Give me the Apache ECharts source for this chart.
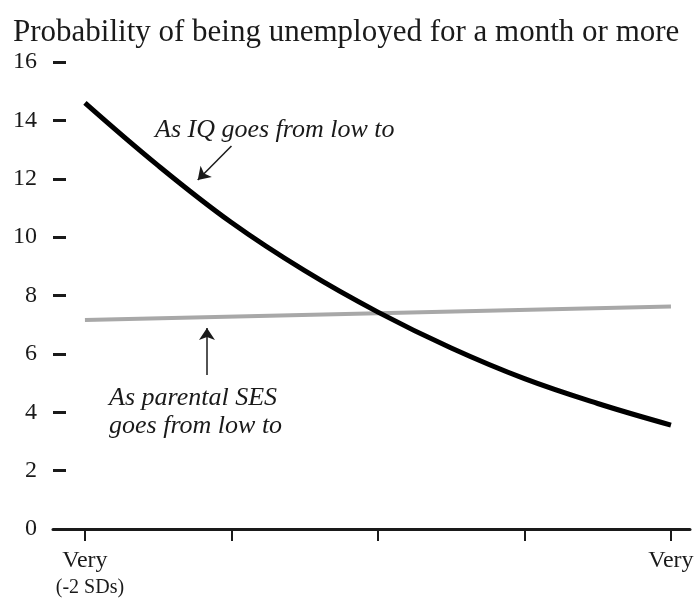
<!DOCTYPE html>
<html>
<head>
<meta charset="utf-8">
<script src="https://cdn.jsdelivr.net/npm/echarts@6/dist/echarts.min.js"></script>
<style>
  html, body { margin: 0; padding: 0; background: #fff; }
  #chart { width: 697px; height: 598px; }
</style>
</head>
<body>
<div id="chart"></div>
<script>
// x positions, in SDs from the mean (-2 = very low, +2 = very high)
const sdSteps = [-2, -1.5, -1, -0.5, 0, 0.5, 1, 1.5, 2];
// probability (%) of being unemployed a month or more
const iqProb = [14.6, 12.45, 10.5, 8.85, 7.43, 6.2, 5.15, 4.3, 3.56];
// parental SES line is straight, only its two ends are needed
const sesSteps = [-2, 2];
const sesProb = [7.16, 7.62];

const xTickValues = [-2, -1, 0, 1, 2];
const xLabelValues = [-2, 2];

// arrows pointing from the notes to the lines (data coords)
const iqArrow = [[-1.0, 13.12], [-1.23, 11.96]];
const sesArrow = [[-1.167, 5.28], [-1.167, 6.89]];

const serif = 'Liberation Serif';
const ink = '#1a1a1a';

let chart = echarts.init(document.getElementById('chart'));

let option = {
    backgroundColor: '#fff',
    animation: false,
    title: {
        text: 'Probability of being unemployed for a month or more',
        left: 8,
        top: 12,
        textStyle: { fontFamily: serif, fontWeight: 'normal', fontSize: 31, color: ink }
    },
    grid: {
        left: 53,
        right: 7,
        top: 62,
        bottom: 69
    },
    xAxis: {
        type: 'value',
        min: -2.218,
        max: 2.13,
        splitLine: { show: false },
        axisLine: { lineStyle: { color: ink, width: 3 } },
        axisTick: {
            customValues: xTickValues,
            length: 12,
            lineStyle: { color: ink, width: 2 }
        },
        axisLabel: {
            customValues: xLabelValues,
            margin: 18,
            fontFamily: serif,
            color: ink,
            formatter: (v) => v < 0 ? '{a|Very}\n{b|(-2 SDs)}' : '{a|Very}',
            rich: {
                a: { fontFamily: serif, fontSize: 24, lineHeight: 27, color: ink },
                b: { fontFamily: serif, fontSize: 20, lineHeight: 27, color: ink, padding: [0, 0, 0, 10] }
            }
        }
    },
    yAxis: {
        type: 'value',
        min: 0,
        max: 16,
        interval: 2,
        splitLine: { show: false },
        axisLine: { show: false, onZero: false },
        axisTick: {
            show: true,
            inside: true,
            length: 13,
            lineStyle: { color: ink, width: 3 }
        },
        axisLabel: {
            margin: 16,
            fontFamily: serif,
            fontSize: 24,
            color: ink
        }
    },
    series: [
        {
            name: 'IQ',
            type: 'line',
            smooth: 0.4,
            symbol: 'none',
            lineStyle: { color: '#000', width: 5 },
            data: sdSteps.map((x, i) => [x, iqProb[i]]),
            markLine: {
                silent: true,
                symbol: ['none', 'arrow'],
                symbolSize: 12,
                label: { show: false },
                lineStyle: { color: ink, width: 1.5, type: 'solid' },
                data: [
                    [{ coord: iqArrow[0] }, { coord: iqArrow[1] }],
                    [{ coord: sesArrow[0] }, { coord: sesArrow[1] }]
                ]
            }
        },
        {
            name: 'Parental SES',
            type: 'line',
            symbol: 'none',
            z: 1,
            lineStyle: { color: '#a8a8a8', width: 4 },
            data: sesSteps.map((x, i) => [x, sesProb[i]])
        }
    ],
    graphic: [
        {
            type: 'text',
            left: 155,
            top: 117,
            style: {
                text: 'As IQ goes from low to',
                font: 'italic 26px "Liberation Serif"',
                fill: ink
            }
        },
        {
            type: 'text',
            left: 109,
            top: 384,
            style: {
                text: 'As parental SES\ngoes from low to',
                font: 'italic 26px "Liberation Serif"',
                lineHeight: 28,
                fill: ink
            }
        }
    ]
};

chart.setOption(option);
</script>
</body>
</html>
